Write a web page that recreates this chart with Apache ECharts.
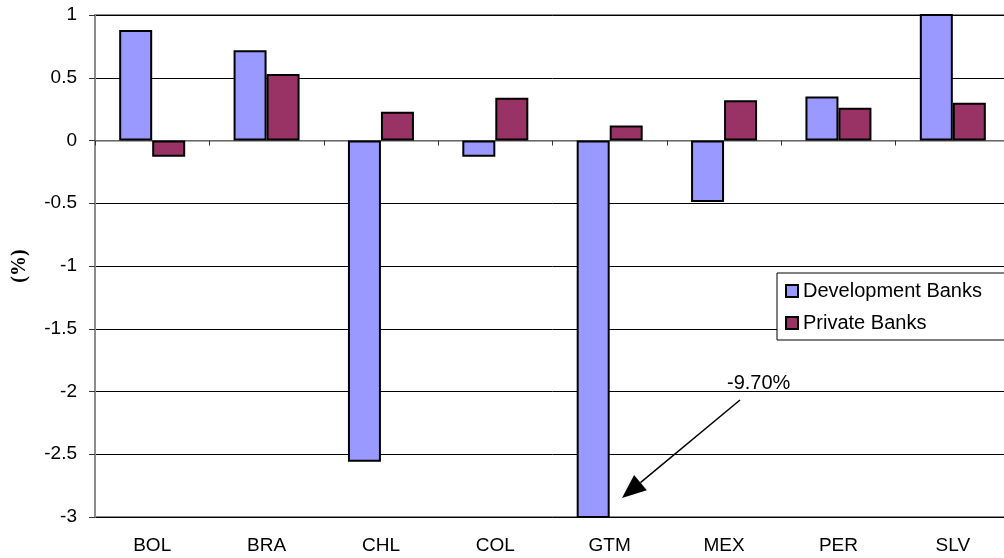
<!DOCTYPE html>
<html>
<head>
<meta charset="utf-8">
<title>Development vs Private Banks</title>
<script src="https://cdn.jsdelivr.net/npm/echarts@6/dist/echarts.min.js"></script>
<style>
  html, body { margin: 0; padding: 0; background: #fff; overflow: hidden; }
  /* plot area runs a little past the right edge, like the original */
  #chart { width: 1010px; height: 558px; }
</style>
</head>
<body>
<div id="chart"></div>
<script>
// data
var categories = ['BOL', 'BRA', 'CHL', 'COL', 'GTM', 'MEX', 'PER', 'SLV']
var devBanks = [0.88, 0.72, -2.56, -0.13, -9.70, -0.49, 0.35, 1.05]
var privBanks = [-0.13, 0.53, 0.23, 0.34, 0.12, 0.32, 0.26, 0.30]
var yTicks = { min: -3, max: 1, interval: 0.5 }

var myChart = echarts.init(document.getElementById('chart'))

// arrow for the GTM note (pointing at the clipped bar)
var from = [740, 400]
var tip = [622, 498]
var dx = tip[0] - from[0], dy = tip[1] - from[1]
var len = Math.sqrt(dx * dx + dy * dy)
var ux = dx / len, uy = dy / len
var bx = tip[0] - ux * 24, by = tip[1] - uy * 24
var hw = 10

var option = {
  animation: false,
  textStyle: { fontFamily: 'Liberation Sans, Arial, sans-serif', color: '#000' },
  grid: {
    left: 95,
    top: 15,
    bottom: 41,
    right: 0,
    show: true,
    borderColor: '#8c8c8c',
    borderWidth: 2
  },
  legend: {
    orient: 'vertical',
    left: 777,
    top: 273,
    padding: [8, 40, 7, 8],
    itemGap: 12,
    itemWidth: 12,
    itemHeight: 12,
    backgroundColor: '#fff',
    borderColor: '#000',
    borderWidth: 1,
    icon: 'rect',
    itemStyle: { borderColor: '#000', borderWidth: 2 },
    textStyle: { fontSize: 20, color: '#000' },
    data: ['Development Banks', 'Private Banks']
  },
  xAxis: [
    {
      type: 'category',
      data: categories,
      position: 'bottom',
      axisLine: { onZero: false, show: false },
      axisTick: { show: false },
      axisLabel: { fontSize: 19, color: '#000', margin: 19 },
      splitLine: { show: false }
    },
    {
      // zero line with category ticks
      type: 'category',
      data: categories,
      position: 'bottom',
      axisLine: { onZero: true, lineStyle: { color: '#8c8c8c', width: 1.5 } },
      axisTick: { show: true, length: 5, lineStyle: { color: '#333' } },
      axisLabel: { show: false },
      splitLine: { show: false }
    }
  ],
  yAxis: {
    type: 'value',
    min: yTicks.min,
    max: yTicks.max,
    interval: yTicks.interval,
    name: '(%)',
    nameLocation: 'middle',
    nameGap: 65,
    nameRotate: 90,
    nameTextStyle: { fontFamily: 'Liberation Serif', fontWeight: 'bold', fontSize: 20, color: '#000' },
    axisLine: { show: true, lineStyle: { color: '#8c8c8c', width: 2 } },
    axisTick: { show: true, length: 6, lineStyle: { color: '#333' } },
    axisLabel: { fontSize: 19, color: '#000', margin: 18 },
    splitLine: { show: true, lineStyle: { color: '#000', width: 1 } }
  },
  series: [
    {
      name: 'Development Banks',
      type: 'bar',
      xAxisIndex: 0,
      barWidth: 33,
      barGap: '0%',
      itemStyle: { color: '#9999ff', borderColor: '#000', borderWidth: 2 },
      data: devBanks
    },
    {
      name: 'Private Banks',
      type: 'bar',
      xAxisIndex: 0,
      barWidth: 33,
      barGap: '0%',
      itemStyle: { color: '#993366', borderColor: '#000', borderWidth: 2 },
      data: privBanks
    }
  ],
  graphic: [
    {
      type: 'text',
      left: 727,
      top: 373,
      style: { text: '-9.70%', fontSize: 20, fill: '#000', fontFamily: 'Liberation Sans' },
      z: 100
    },
    {
      type: 'line',
      shape: { x1: from[0], y1: from[1], x2: bx, y2: by },
      style: { stroke: '#000', lineWidth: 1.5 },
      z: 100
    },
    {
      type: 'polygon',
      shape: {
        points: [tip, [bx - uy * hw, by + ux * hw], [bx + uy * hw, by - ux * hw]]
      },
      style: { fill: '#000' },
      z: 100
    }
  ]
}

myChart.setOption(option)
</script>
</body>
</html>
